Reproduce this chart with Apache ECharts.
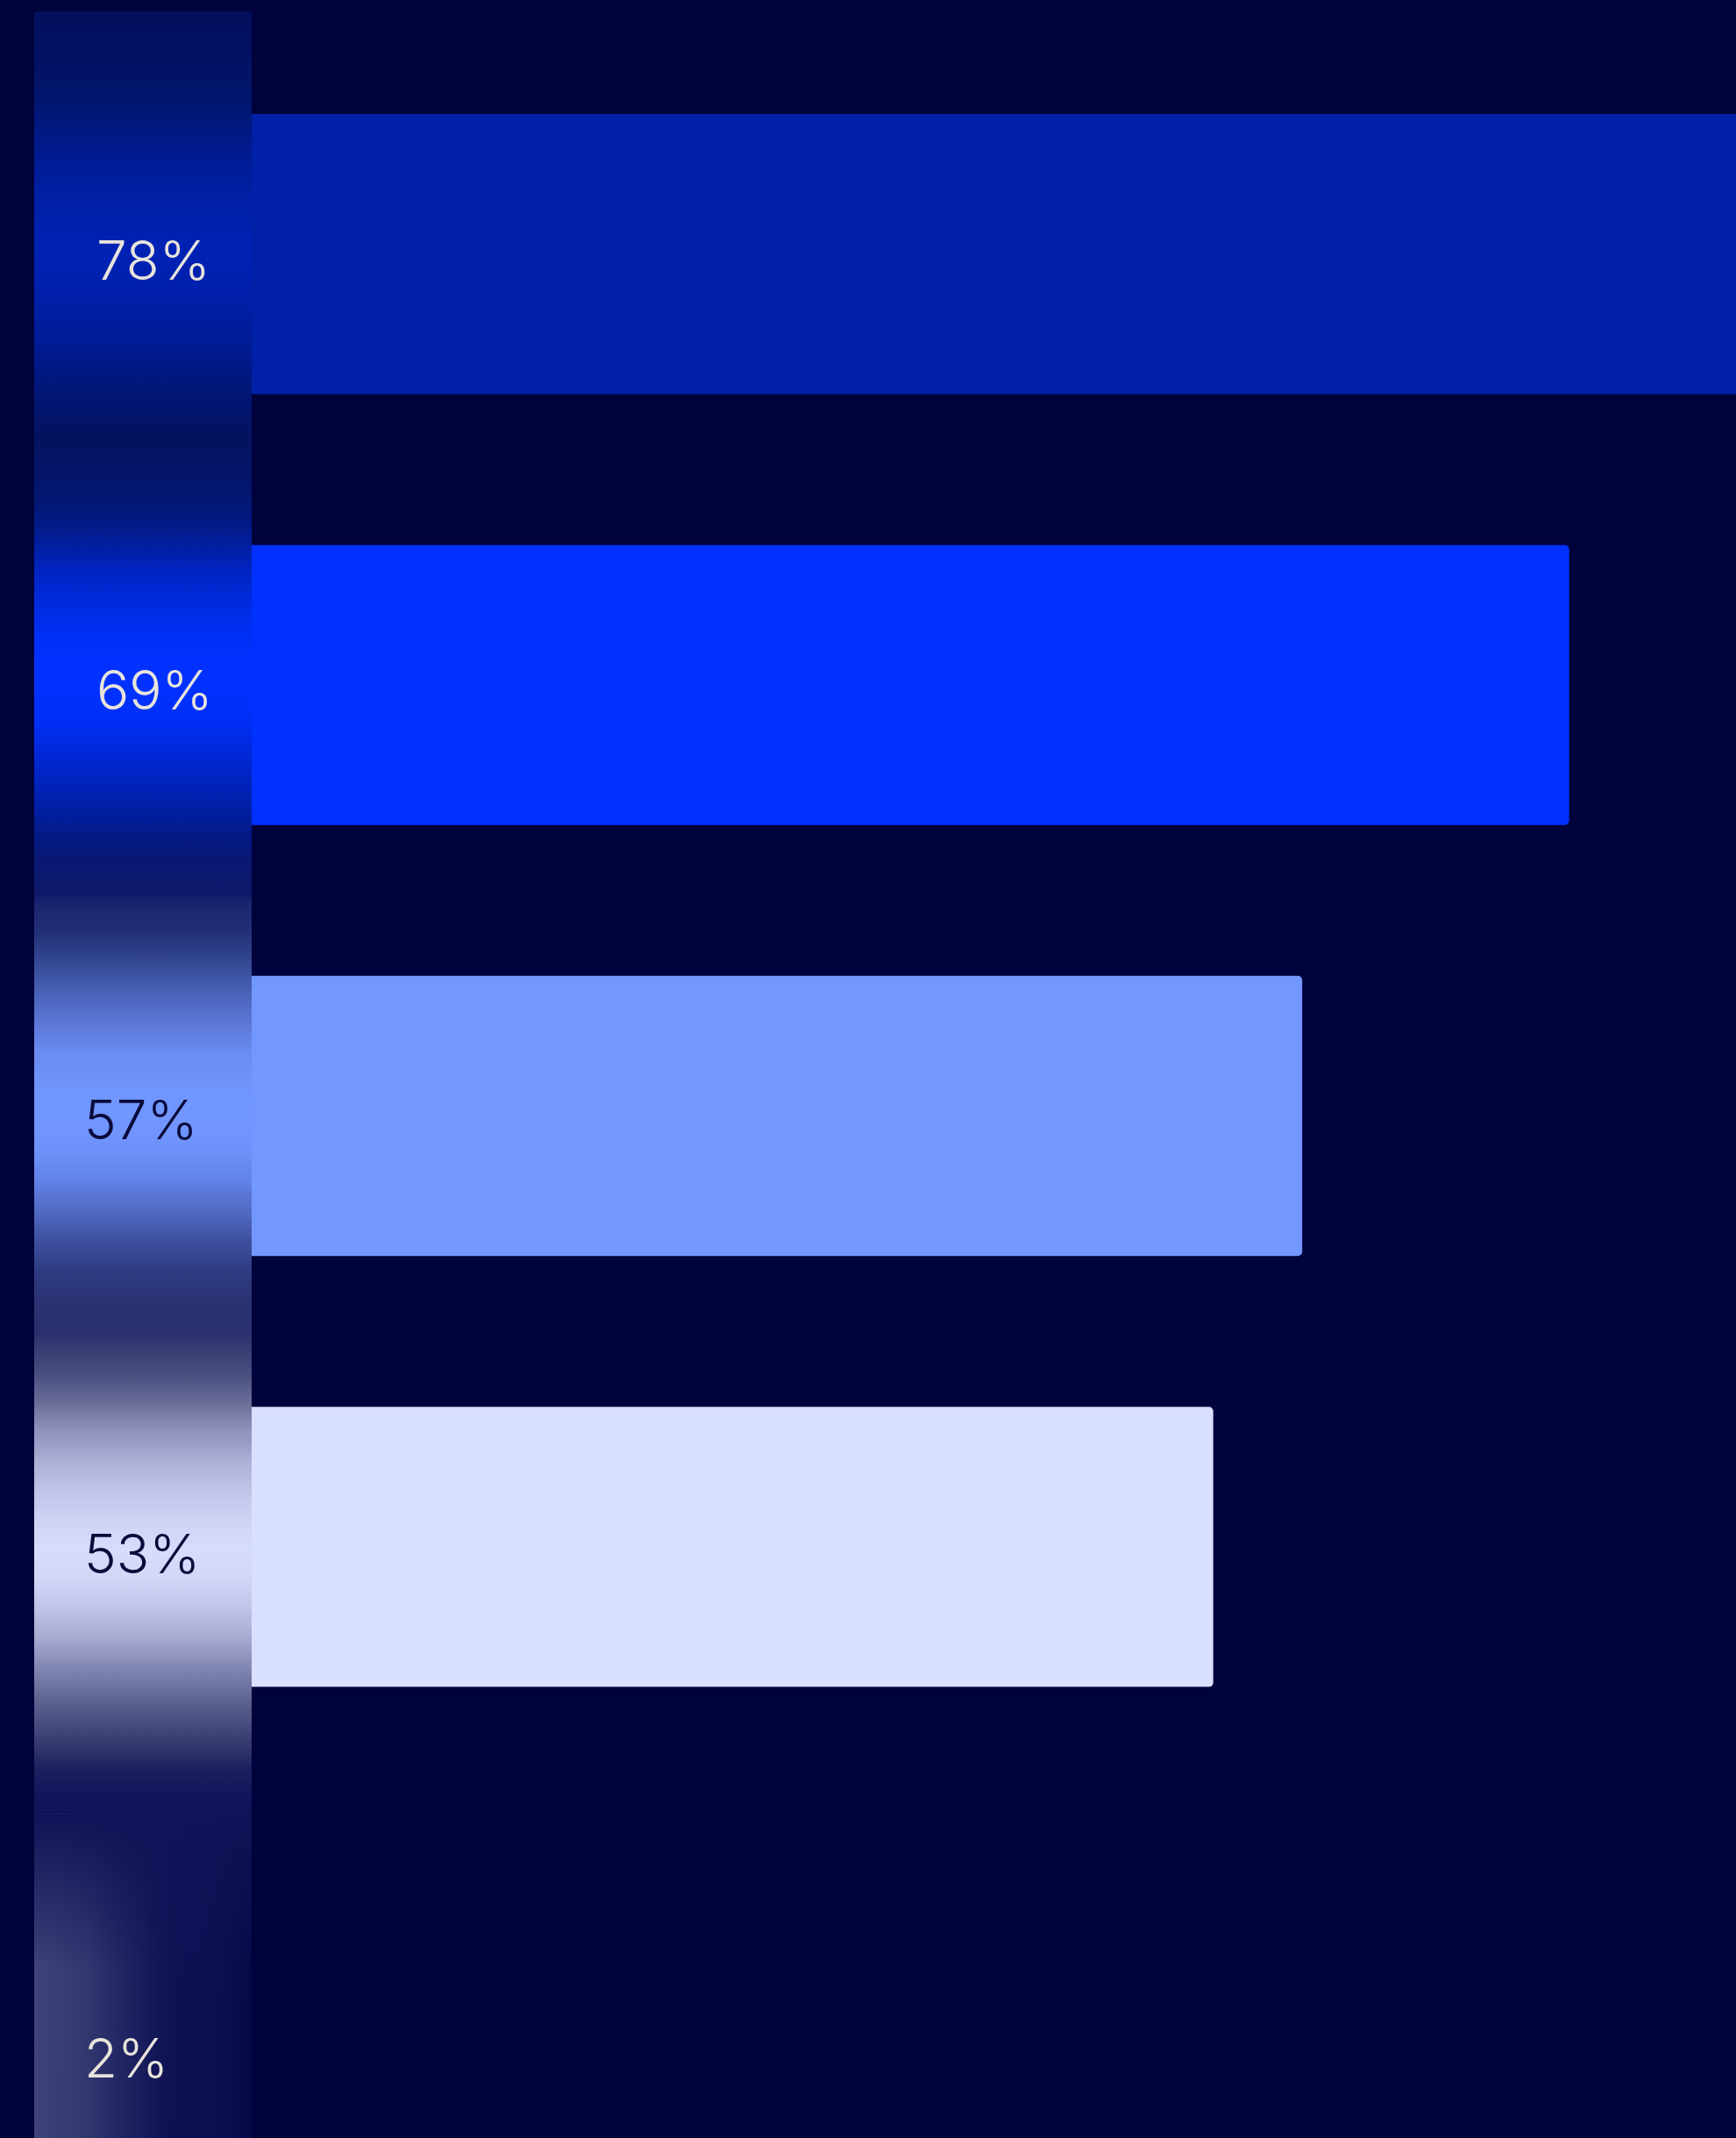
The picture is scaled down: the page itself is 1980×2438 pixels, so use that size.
<!DOCTYPE html>
<html>
<head>
<meta charset="utf-8">
<script src="https://cdn.jsdelivr.net/npm/echarts@6/dist/echarts.min.js"></script>
<style>
  html, body { margin: 0; padding: 0; background: #00023c; overflow: hidden; }
  /* the last row runs past the bottom edge of the view */
  #chart { width: 1980px; height: 2501px; }
</style>
</head>
<body>
<div id="chart"></div>
<script>
// Row data, top to bottom
const categories = ['Row 1', 'Row 2', 'Row 3', 'Row 4', 'Row 5'];
const shares = [78, 69, 57, 53, 2];

// Styling per row
const barColors = ['#0020a8', '#0031ff', '#7297ff', '#d9dfff', '#0b0f4a'];
const labelColors = ['#e8e4dc', '#e8e4dc', '#0a0a3a', '#0a0a3a', '#e8e4dc'];
const labelOffsets = [[71, 11], [71, 9], [57, 8], [57, 11], [57, 95]];

// Colour stops of the glowing label column, in row units (0 = centre of first row)
const glowStops = [
  [-0.563, '#030f5c'], [-0.386, '#021468'], [-0.250, '#001a8c'], [-0.115, '#0020a8'],
  [-0.014, '#0022b4'], [0.088, '#0020ac'], [0.224, '#001a90'], [0.361, '#02146c'],
  [0.428, '#03135f'], [0.564, '#041670'], [0.632, '#021a88'], [0.733, '#0024c0'],
  [0.835, '#002ce8'], [0.937, '#0031ff'], [1.004, '#0031ff'], [1.073, '#002ff8'],
  [1.140, '#002ae0'], [1.207, '#0024c4'], [1.277, '#0020a8'], [1.344, '#041a88'],
  [1.411, '#0a1872'], [1.486, '#0f1a6a'], [1.510, '#1a2570'], [1.582, '#24327a'],
  [1.649, '#364a96'], [1.716, '#4a62b8'], [1.786, '#5c78d8'], [1.853, '#6a8cf0'],
  [1.954, '#7096ff'], [2.021, '#7196ff'], [2.091, '#6c90f8'], [2.158, '#6080e4'],
  [2.225, '#5068c0'], [2.294, '#3c4e9c'], [2.361, '#2e3c82'], [2.428, '#2a3272'],
  [2.504, '#2a306e'], [2.530, '#343a70'], [2.599, '#4a4e80'], [2.666, '#6a6e98'],
  [2.734, '#9094be'], [2.803, '#acb0d6'], [2.870, '#c0c4e8'], [2.937, '#ced3f4'],
  [3.006, '#d6dcfc'], [3.074, '#d2d7f8'], [3.141, '#c0c4e8'], [3.210, '#a8acd2'],
  [3.277, '#8488b4'], [3.344, '#646894'], [3.414, '#464a7e'], [3.481, '#2c3066'],
  [3.515, '#1c2060'], [3.582, '#10145a'], [3.684, '#0e1256'], [4.372, '#0c1052']
];

const COLUMN_WIDTH = 248;
const VIEW_HEIGHT = 2438;

const chart = echarts.init(document.getElementById('chart'), null, { renderer: 'canvas' });

const barData = shares.map((v, i) => ({
  value: v,
  itemStyle: { color: barColors[i], borderRadius: i === 0 ? 0 : [0, 5, 5, 0] }
}));

const labelData = shares.map((v, i) => ({
  value: v,
  label: { color: labelColors[i], offset: [labelOffsets[i][0], labelOffsets[i][1]] }
}));

const option = {
  backgroundColor: '#00023c',
  animation: false,
  grid: { left: 39, right: 0, top: 44, bottom: 0, containLabel: false },
  xAxis: {
    type: 'value', min: 0, max: 76.5,
    show: false, splitLine: { show: false }
  },
  yAxis: {
    type: 'category', data: categories, inverse: true,
    show: false
  },
  series: [
    {
      type: 'bar',
      data: barData,
      barCategoryGap: '35%',
      barGap: '-100%',
      clip: true,
      z: 2,
      silent: true
    },
    {
      type: 'bar',
      data: labelData,
      barCategoryGap: '35%',
      barGap: '-100%',
      clip: true,
      z: 10,
      silent: true,
      itemStyle: { color: 'rgba(0,0,0,0)' },
      label: {
        show: true,
        position: 'insideLeft',
        distance: 0,
        formatter: '{c}%',
        fontFamily: 'Inter',
        fontWeight: 300,
        fontSize: 62,
        verticalAlign: 'middle'
      }
    }
  ]
};

chart.setOption(option);

// Glowing column behind the percentage labels, aligned to the rows
const yFirst = chart.convertToPixel({ yAxisIndex: 0 }, categories[0]);
const ySecond = chart.convertToPixel({ yAxisIndex: 0 }, categories[1]);
const step = ySecond - yFirst;
const rowY = (u) => yFirst + u * step;
const colLeft = chart.convertToPixel({ xAxisIndex: 0 }, 0);
const colTop = rowY(glowStops[0][0]);
const colHeight = VIEW_HEIGHT - colTop;

const stops = glowStops.map(([u, c]) => ({
  offset: Math.min(1, Math.max(0, (rowY(u) - colTop) / colHeight)),
  color: c
}));

// Side-lit haze at the foot of the column
const hazeTop = rowY(3.62);
const hazeHeight = VIEW_HEIGHT - hazeTop;
const fadeHeight = rowY(3.98) - hazeTop;

chart.setOption({
  graphic: [
    {
      type: 'rect', z: 5, silent: true,
      shape: { x: colLeft, y: colTop, width: COLUMN_WIDTH, height: colHeight },
      style: { fill: new echarts.graphic.LinearGradient(0, 0, 0, 1, stops) }
    },
    {
      type: 'rect', z: 6, silent: true,
      shape: { x: colLeft, y: hazeTop, width: COLUMN_WIDTH, height: hazeHeight },
      style: {
        fill: new echarts.graphic.LinearGradient(0, 0, 1, 0, [
          { offset: 0, color: 'rgba(76,80,130,0.8)' },
          { offset: 0.25, color: 'rgba(76,80,130,0.6)' },
          { offset: 0.5, color: 'rgba(60,64,118,0.25)' },
          { offset: 0.7, color: 'rgba(14,18,86,0)' },
          { offset: 1, color: 'rgba(2,4,60,0.6)' }
        ])
      }
    },
    {
      type: 'rect', z: 7, silent: true,
      shape: { x: colLeft, y: hazeTop, width: COLUMN_WIDTH, height: fadeHeight },
      style: {
        fill: new echarts.graphic.LinearGradient(0, 0, 0, 1, [
          { offset: 0, color: 'rgba(15,19,87,1)' },
          { offset: 1, color: 'rgba(14,18,86,0)' }
        ])
      }
    }
  ]
});
</script>
</body>
</html>
